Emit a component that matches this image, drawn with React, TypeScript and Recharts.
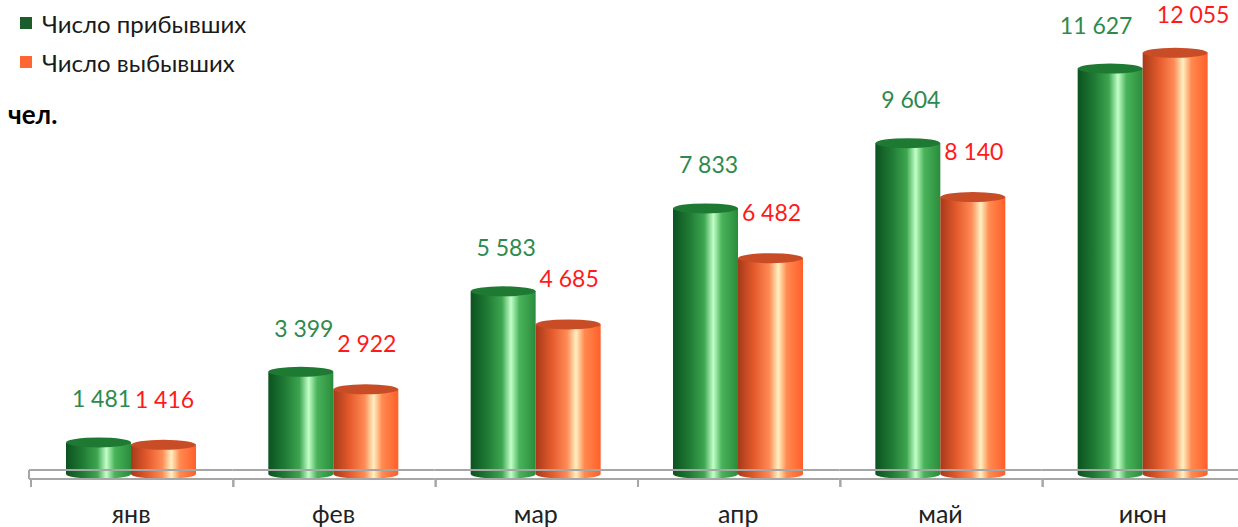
import React from 'react';
import { BarChart, Bar, XAxis, YAxis, LabelList } from 'recharts';

const months = ['янв', 'фев', 'мар', 'апр', 'май', 'июн'];
const arrived = [1481, 3399, 5583, 7833, 9604, 11627];
const departed = [1416, 2922, 4685, 6482, 8140, 12055];
const seriesNames = ['Число прибывших', 'Число выбывших'];
const unitLabel = 'чел.';
const yDomain = [0, 13000];

const data = months.map((m, i) => ({ month: m, arrived: arrived[i], departed: departed[i] }));

const W = 1244;
const H = 527;
const MARGIN = { top: 18, right: 0, bottom: 0, left: 30 };
const XAXIS_H = 30;
const PLOT_BOTTOM = H - MARGIN.bottom - XAXIS_H;
const PLOT_H = PLOT_BOTTOM - MARGIN.top;
const BAND = (W - MARGIN.left - MARGIN.right) / months.length;
const BAR_W = 65;
const FLOOR_TOP = PLOT_BOTTOM - 27;
const FLOOR_BOTTOM = PLOT_BOTTOM - 18;
const LIFT = 23;
const RY = 5;
const FONT = "Lato, 'Open Sans', 'Noto Sans', sans-serif";
const LABEL_FS = 23;
const OFF_G = 44;
const OFF_O = 46;
const MIN_LABEL_Y = 14;

const fmt = (v: number) => String(v).replace(/\B(?=(\d{3})+(?!\d))/g, ' ');
const yPix = (v: number) => PLOT_BOTTOM - ((v - yDomain[0]) / (yDomain[1] - yDomain[0])) * PLOT_H;
const textW = (s: string) => s.split('').reduce((a, c) => a + (c === ' ' ? 0.25 : 0.55) * LABEL_FS, 0);

// horizontal push-apart when the two labels of one category would overlap
const labelShift = (i: number) => {
  const yg = Math.max(yPix(arrived[i]) - OFF_G, MIN_LABEL_Y);
  const yo = Math.max(yPix(departed[i]) - OFF_O, MIN_LABEL_Y);
  if (Math.abs(yg - yo) >= LABEL_FS) return 0;
  const half = (textW(fmt(arrived[i])) + textW(fmt(departed[i]))) / 2;
  if (half + 4 - BAR_W <= 0) return 0;
  return (half + 30 - BAR_W) / 2;
};

const makeCylinder = (gradId: string, topFill: string) => (props: any) => {
  const { x, y, width, height } = props;
  if (width == null || height == null) return null;
  const cx = x + width / 2;
  const rx = width / 2;
  const bottom = Math.max(y + height - LIFT, y + 1);
  const d = `M ${x},${y} L ${x},${bottom} A ${rx} ${RY} 0 0 0 ${x + width},${bottom} L ${x + width},${y} Z`;
  return (
    <g>
      <path d={d} fill={`url(#${gradId})`} />
      <ellipse cx={cx} cy={y} rx={rx} ry={RY} fill={topFill} />
    </g>
  );
};

const GreenCyl = makeCylinder('gradGreen', '#1e7a33');
const OrangeCyl = makeCylinder('gradOrange', '#c84d27');

const makeLabel = (color: string, off: number, dx: number, dir: number) => (props: any) => {
  const { x, y, width, value, index } = props;
  return (
    <text
      x={x + width / 2 + dx + dir * labelShift(index)}
      y={Math.max(y - off, MIN_LABEL_Y)}
      textAnchor="middle"
      dominantBaseline="central"
      fill={color}
      fontSize={LABEL_FS}
      fontFamily={FONT}
    >
      {fmt(value)}
    </text>
  );
};

const MonthTick = (props: any) => {
  const { x, payload, index } = props;
  const xl = x - BAND / 2;
  const xr = x + BAND / 2;
  const stroke = '#a6a6a6';
  return (
    <g>
      <line x1={xl - (index === 0 ? 1 : 0)} y1={FLOOR_TOP} x2={xr} y2={FLOOR_TOP} stroke={stroke} strokeWidth={2} />
      <line x1={xl - (index === 0 ? 1 : 0)} y1={FLOOR_BOTTOM} x2={xr} y2={FLOOR_BOTTOM} stroke={stroke} strokeWidth={2} />
      {index === 0 && (
        <line x1={xl - 1} y1={FLOOR_TOP} x2={xl - 1} y2={FLOOR_BOTTOM} stroke={stroke} strokeWidth={2} />
      )}
      <line x1={xl + 1} y1={FLOOR_BOTTOM} x2={xl + 1} y2={FLOOR_BOTTOM + 8} stroke={stroke} strokeWidth={2} />
      <line x1={xr + 1} y1={FLOOR_BOTTOM} x2={xr + 1} y2={FLOOR_BOTTOM + 8} stroke={stroke} strokeWidth={2} />
      <text x={x} y={PLOT_BOTTOM + 26} textAnchor="middle" fill="#222" fontSize={25} fontFamily={FONT}>
        {payload.value}
      </text>
    </g>
  );
};

const legendColors = ['#1b5e2b', '#ff6633'];

export default function App() {
  return (
    <div style={{ position: 'absolute', left: 0, top: 0, width: 1238, height: 527, overflow: 'hidden', background: '#fff' }}>
      <BarChart width={W} height={H} data={data} margin={MARGIN} barGap={0}>
        <defs>
          <linearGradient id="gradGreen" x1="0" y1="0" x2="1" y2="0">
            <stop offset="0%" stopColor="#0c5220" />
            <stop offset="25%" stopColor="#1f7a34" />
            <stop offset="48%" stopColor="#3da550" />
            <stop offset="62%" stopColor="#c2ffc8" />
            <stop offset="75%" stopColor="#49b35a" />
            <stop offset="100%" stopColor="#2a8c3c" />
          </linearGradient>
          <linearGradient id="gradOrange" x1="0" y1="0" x2="1" y2="0">
            <stop offset="0%" stopColor="#a63a1a" />
            <stop offset="25%" stopColor="#e45a2c" />
            <stop offset="48%" stopColor="#ff8a55" />
            <stop offset="62%" stopColor="#fff0c0" />
            <stop offset="75%" stopColor="#ff8a50" />
            <stop offset="100%" stopColor="#ff5f2a" />
          </linearGradient>
        </defs>
        <XAxis
          dataKey="month"
          height={XAXIS_H}
          axisLine={false}
          tickLine={false}
          interval={0}
          tick={<MonthTick />}
        />
        <YAxis hide domain={yDomain} />
        <Bar dataKey="arrived" name={seriesNames[0]} barSize={BAR_W} shape={<GreenCyl />} isAnimationActive={false}>
          <LabelList dataKey="arrived" content={makeLabel('#2e8a4c', OFF_G, 3, -1)} />
        </Bar>
        <Bar dataKey="departed" name={seriesNames[1]} barSize={BAR_W} shape={<OrangeCyl />} isAnimationActive={false}>
          <LabelList dataKey="departed" content={makeLabel('#ff1a1a', OFF_O, 1, 1)} />
        </Bar>
      </BarChart>
      <div style={{ position: 'absolute', left: 0, top: 0, fontFamily: FONT, color: '#1a1a1a' }}>
        {seriesNames.map((n, i) => (
          <div key={n} style={{ position: 'absolute', left: 20, top: 9 + i * 39, display: 'flex', alignItems: 'center', whiteSpace: 'nowrap', height: 28 }}>
            <span style={{ display: 'inline-block', width: 12, height: 12, background: legendColors[i], marginRight: 10 }} />
            <span style={{ fontSize: 24 }}>{n}</span>
          </div>
        ))}
        <div style={{ position: 'absolute', left: 8, top: 98, fontSize: 26, fontWeight: 'bold', whiteSpace: 'nowrap', color: '#000' }}>
          {unitLabel}
        </div>
      </div>
    </div>
  );
}
